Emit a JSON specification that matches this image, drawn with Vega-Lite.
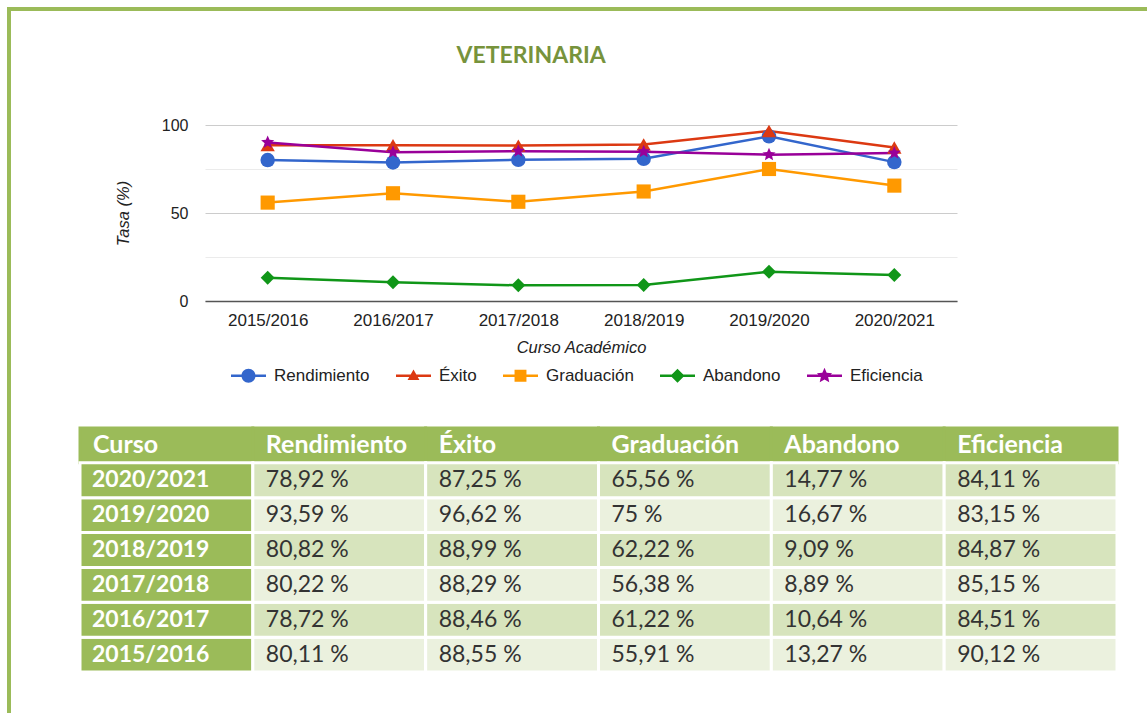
{
  "$schema": "https://vega.github.io/schema/vega-lite/v6.json",
  "background": "white",
  "padding": {"left": 7, "top": 7, "right": 0, "bottom": 0},
  "config": {
    "view": {"stroke": null},
    "font": "Liberation Sans",
    "axis": {"labelFont": "Liberation Sans", "labelFontSize": 17, "labelColor": "#222222", "titleFont": "Liberation Sans", "titleFontSize": 16.5, "titleFontStyle": "italic", "titleFontWeight": "normal", "titleColor": "#222222", "ticks": false},
    "legend": {"layout": {"bottom": {"anchor": "middle"}}}
  },
  "datasets": {
    "tasas": [
      {"curso": "2015/2016", "indicador": "Rendimiento", "tasa": 80.11},
      {"curso": "2016/2017", "indicador": "Rendimiento", "tasa": 78.72},
      {"curso": "2017/2018", "indicador": "Rendimiento", "tasa": 80.22},
      {"curso": "2018/2019", "indicador": "Rendimiento", "tasa": 80.82},
      {"curso": "2019/2020", "indicador": "Rendimiento", "tasa": 93.59},
      {"curso": "2020/2021", "indicador": "Rendimiento", "tasa": 78.92},
      {"curso": "2015/2016", "indicador": "Éxito", "tasa": 88.55},
      {"curso": "2016/2017", "indicador": "Éxito", "tasa": 88.46},
      {"curso": "2017/2018", "indicador": "Éxito", "tasa": 88.29},
      {"curso": "2018/2019", "indicador": "Éxito", "tasa": 88.99},
      {"curso": "2019/2020", "indicador": "Éxito", "tasa": 96.62},
      {"curso": "2020/2021", "indicador": "Éxito", "tasa": 87.25},
      {"curso": "2015/2016", "indicador": "Graduación", "tasa": 55.91},
      {"curso": "2016/2017", "indicador": "Graduación", "tasa": 61.22},
      {"curso": "2017/2018", "indicador": "Graduación", "tasa": 56.38},
      {"curso": "2018/2019", "indicador": "Graduación", "tasa": 62.22},
      {"curso": "2019/2020", "indicador": "Graduación", "tasa": 75},
      {"curso": "2020/2021", "indicador": "Graduación", "tasa": 65.56},
      {"curso": "2015/2016", "indicador": "Abandono", "tasa": 13.27},
      {"curso": "2016/2017", "indicador": "Abandono", "tasa": 10.64},
      {"curso": "2017/2018", "indicador": "Abandono", "tasa": 8.89},
      {"curso": "2018/2019", "indicador": "Abandono", "tasa": 9.09},
      {"curso": "2019/2020", "indicador": "Abandono", "tasa": 16.67},
      {"curso": "2020/2021", "indicador": "Abandono", "tasa": 14.77},
      {"curso": "2015/2016", "indicador": "Eficiencia", "tasa": 90.12},
      {"curso": "2016/2017", "indicador": "Eficiencia", "tasa": 84.51},
      {"curso": "2017/2018", "indicador": "Eficiencia", "tasa": 85.15},
      {"curso": "2018/2019", "indicador": "Eficiencia", "tasa": 84.87},
      {"curso": "2019/2020", "indicador": "Eficiencia", "tasa": 83.15},
      {"curso": "2020/2021", "indicador": "Eficiencia", "tasa": 84.11}
    ],
    "columnas": [
      {"columna": "Curso"},
      {"columna": "Rendimiento"},
      {"columna": "Éxito"},
      {"columna": "Graduación"},
      {"columna": "Abandono"},
      {"columna": "Eficiencia"}
    ]
  },
  "spacing": 0,
  "resolve": {"scale": {"color": "independent", "shape": "independent", "size": "independent"}},
  "vconcat": [
    {"width": 1140, "height": 4, "data": {"values": [{}]}, "mark": {"type": "rect", "fill": "#9bbb59"}, "encoding": {}},
    {
      "spacing": 67,
      "resolve": {"scale": {"color": "independent", "shape": "independent", "size": "independent"}},
      "hconcat": [
        {"width": 4, "height": 702, "data": {"values": [{}]}, "mark": {"type": "rect", "fill": "#9bbb59"}, "encoding": {}},
        {
          "spacing": 28,
          "resolve": {"scale": {"color": "independent", "shape": "independent", "size": "independent"}},
          "hconcat": [
            {
              "spacing": 42,
              "resolve": {"scale": {"color": "independent", "shape": "independent", "size": "independent"}},
              "vconcat": [
                {
                  "spacing": 33,
                  "resolve": {"scale": {"color": "independent", "shape": "independent", "size": "independent"}},
                  "vconcat": [
                    {"width": 1, "height": 1, "data": {"values": []}, "mark": "rect", "encoding": {}},
                    {
                      "spacing": 34,
                      "resolve": {"scale": {"color": "independent", "shape": "independent", "size": "independent"}},
                      "hconcat": [
                        {"width": 1, "height": 1, "data": {"values": []}, "mark": "rect", "encoding": {}},
                        {
                          "width": 752,
                          "height": 176,
                          "data": {"name": "tasas"},
                          "title": {"text": "VETERINARIA", "font": "Lato", "fontSize": 23, "fontWeight": "bold", "color": "#77933c", "anchor": "middle", "frame": "bounds", "offset": 49, "dx": -5},
                          "resolve": {"scale": {"color": "independent", "shape": "independent", "size": "independent"}},
                          "encoding": {
                            "x": {"field": "curso", "type": "ordinal", "title": "Curso Académico",
                              "scale": {"type": "point", "padding": 0.5, "domain": ["2015/2016", "2016/2017", "2017/2018", "2018/2019", "2019/2020", "2020/2021"]},
                              "axis": {"labelAngle": 0, "labelPadding": 11, "titlePadding": 11, "grid": false, "domainColor": "#555555", "domainWidth": 1.5}},
                            "y": {"field": "tasa", "type": "quantitative", "title": "Tasa (%)",
                              "scale": {"domain": [0, 100], "nice": false},
                              "axis": {"values": [0, 25, 50, 75, 100], "labelExpr": "datum.value % 50 === 0 ? datum.label : ''", "domain": false, "grid": true, "labelFontSize": 16,
                                "gridColor": {"condition": {"test": "datum.value % 50 === 0", "value": "#cccccc"}, "value": "#ebebeb"},
                                "labelPadding": 17, "titlePadding": 30}}
                          },
                          "layer": [
                            {"mark": {"type": "line", "strokeWidth": 2.5},
                              "encoding": {
                                "color": {"field": "indicador", "type": "nominal", "legend": null,
                                  "scale": {"domain": ["Rendimiento", "Éxito", "Graduación", "Abandono", "Eficiencia"], "range": ["#3366cc", "#dc3912", "#ff9900", "#109618", "#990099"]}}
                              }},
                            {"mark": {"type": "point", "filled": true, "opacity": 1},
                              "encoding": {
                                "color": {"field": "indicador", "type": "nominal", "legend": null,
                                  "scale": {"domain": ["Rendimiento", "Éxito", "Graduación", "Abandono", "Eficiencia"], "range": ["#3366cc", "#dc3912", "#ff9900", "#109618", "#990099"]}},
                                "shape": {"field": "indicador", "type": "nominal", "legend": null,
                                  "scale": {"domain": ["Rendimiento", "Éxito", "Graduación", "Abandono", "Eficiencia"], "range": ["circle", "triangle-up", "square", "diamond", "M0,-1L0.27,-0.37L0.95,-0.31L0.44,0.14L0.59,0.81L0,0.46L-0.59,0.81L-0.44,0.14L-0.95,-0.31L-0.27,-0.37Z"]}},
                                "size": {"field": "indicador", "type": "nominal", "legend": null,
                                  "scale": {"domain": ["Rendimiento", "Éxito", "Graduación", "Abandono", "Eficiencia"], "range": [210, 190, 160, 210, 380]}}
                              }},
                            {"transform": [{"filter": "false"}],
                              "mark": {"type": "point", "filled": true, "opacity": 1, "size": 196},
                              "encoding": {
                                "color": {"field": "indicador", "type": "nominal", "title": null,
                                  "scale": {"domain": ["Rendimiento", "Éxito", "Graduación", "Abandono", "Eficiencia"], "range": ["#3366cc", "#dc3912", "#ff9900", "#109618", "#990099"]},
                                  "legend": {"orient": "bottom", "direction": "horizontal", "title": null, "labelFont": "Liberation Sans", "labelFontSize": 17, "labelColor": "#222222", "symbolSize": 196, "symbolStrokeWidth": 0, "columnPadding": 26, "labelOffset": 17, "offset": 11}},
                                "shape": {"field": "indicador", "type": "nominal", "title": null,
                                  "scale": {"domain": ["Rendimiento", "Éxito", "Graduación", "Abandono", "Eficiencia"], "range": [
                                    "M-2.5,-0.18H2.5V0.18H-2.5Z M-1,0A1,1,0,1,1,1,0A1,1,0,1,1,-1,0Z",
                                    "M-2.5,-0.18H2.5V0.18H-2.5Z M0,-0.9L0.85,0.6L-0.85,0.6Z",
                                    "M-2.5,-0.18H2.5V0.18H-2.5Z M-0.85,-0.85H0.85V0.85H-0.85Z",
                                    "M-2.5,-0.18H2.5V0.18H-2.5Z M0,-1L1,0L0,1L-1,0Z",
                                    "M-2.5,-0.18H2.5V0.18H-2.5Z M0,-1.15L0.31,-0.43L1.09,-0.36L0.51,0.16L0.68,0.93L0,0.53L-0.68,0.93L-0.51,0.16L-1.09,-0.36L-0.31,-0.43Z"]},
                                  "legend": {"orient": "bottom", "direction": "horizontal", "title": null, "labelFont": "Liberation Sans", "labelFontSize": 17, "labelColor": "#222222", "symbolSize": 196, "symbolStrokeWidth": 0, "columnPadding": 26, "labelOffset": 17, "offset": 11}}
                              }}
                          ]
                        }
                      ]
                    }
                  ]
                },
                {
                  "width": 1037,
                  "height": 244,
                  "layer": [
                    {
                      "data": {"name": "columnas"},
                      "layer": [
                        {"mark": {"type": "rect", "fill": "#9bbb59", "stroke": "#9bbb59", "strokeWidth": 3},
                          "encoding": {
                            "x": {"field": "columna", "type": "nominal", "axis": null, "scale": {"domain": ["Curso", "Rendimiento", "Éxito", "Graduación", "Abandono", "Eficiencia"], "paddingInner": 0, "paddingOuter": 0}},
                            "y": {"datum": "encabezado", "type": "nominal", "axis": null, "scale": {"domain": ["encabezado", "2020/2021", "2019/2020", "2018/2019", "2017/2018", "2016/2017", "2015/2016"], "paddingInner": 0, "paddingOuter": 0}}
                          }},
                        {"mark": {"type": "text", "align": "left", "baseline": "middle", "dx": 13, "font": "Lato", "fontSize": 25, "fontWeight": "bold", "color": "white"},
                          "encoding": {
                            "x": {"field": "columna", "type": "nominal", "bandPosition": 0},
                            "y": {"datum": "encabezado", "type": "nominal"},
                            "text": {"field": "columna"}
                          }}
                      ]
                    },
                    {
                      "data": {"name": "tasas"},
                      "transform": [{"aggregate": [{"op": "count", "as": "n"}], "groupby": ["curso"]}],
                      "layer": [
                        {"mark": {"type": "rect", "fill": "#9bbb59", "stroke": "white", "strokeWidth": 3},
                          "encoding": {
                            "x": {"datum": "Curso", "type": "nominal"},
                            "y": {"field": "curso", "type": "nominal"}
                          }},
                        {"mark": {"type": "text", "align": "left", "baseline": "middle", "dx": 12, "font": "Lato", "fontSize": 23, "fontWeight": "bold", "color": "white"},
                          "encoding": {
                            "x": {"datum": "Curso", "type": "nominal", "bandPosition": 0},
                            "y": {"field": "curso", "type": "nominal"},
                            "text": {"field": "curso"}
                          }}
                      ]
                    },
                    {
                      "data": {"name": "tasas"},
                      "transform": [{"calculate": "replace(format(datum.tasa, '.2~f'), '.', ',') + ' %'", "as": "etiqueta"}],
                      "layer": [
                        {"mark": {"type": "rect", "stroke": "white", "strokeWidth": 3},
                          "encoding": {
                            "x": {"field": "indicador", "type": "nominal"},
                            "y": {"field": "curso", "type": "nominal"},
                            "fill": {"condition": {"test": "indexof(['2020/2021','2018/2019','2016/2017'], datum.curso) >= 0", "value": "#d7e4bd"}, "value": "#ebf1de"}
                          }},
                        {"mark": {"type": "text", "align": "left", "baseline": "middle", "dx": 13, "font": "Lato", "fontSize": 23, "color": "#333333"},
                          "encoding": {
                            "x": {"field": "indicador", "type": "nominal", "bandPosition": 0},
                            "y": {"field": "curso", "type": "nominal"},
                            "text": {"field": "etiqueta"}
                          }}
                      ]
                    }
                  ]
                }
              ]
            },
            {"width": 4, "height": 702, "data": {"values": [{}]}, "mark": {"type": "rect", "fill": "#9bbb59"}, "encoding": {}}
          ]
        }
      ]
    }
  ]
}
